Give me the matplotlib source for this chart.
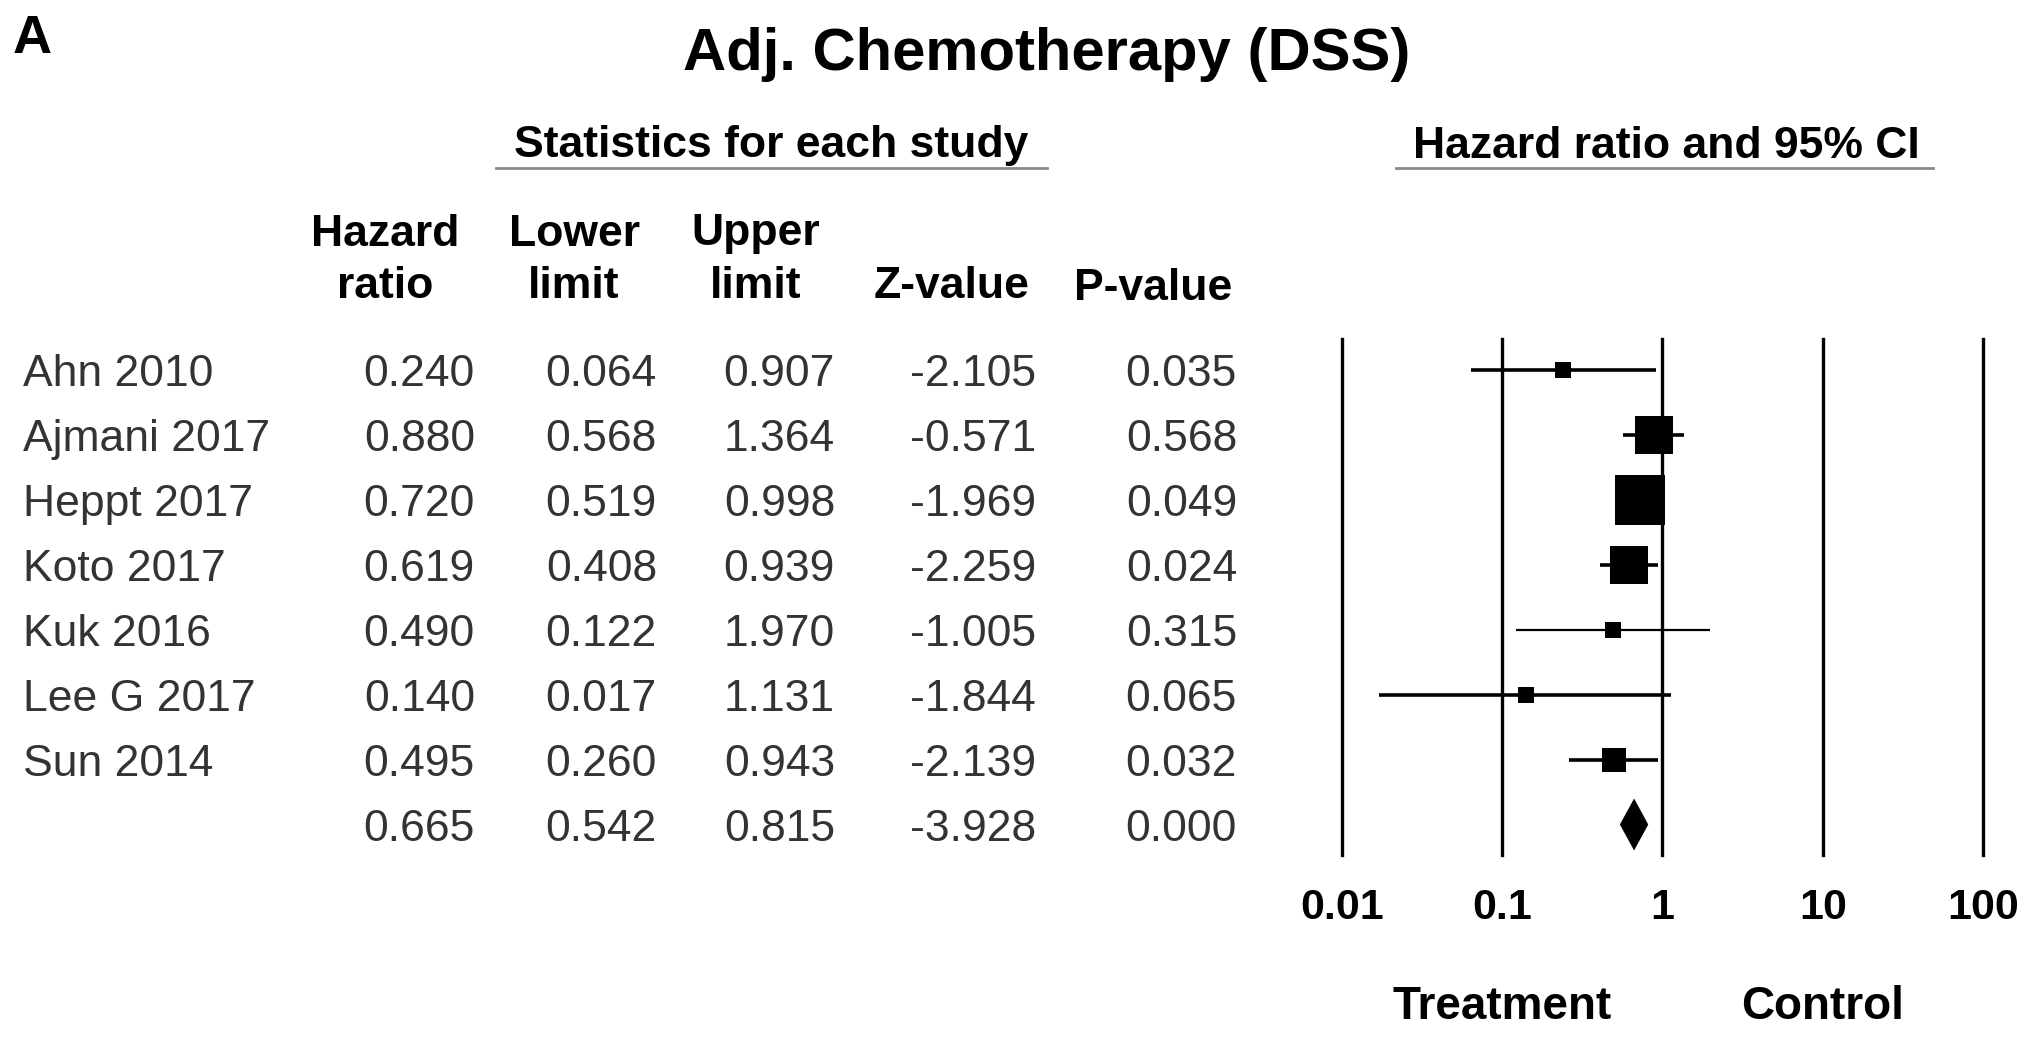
import matplotlib
matplotlib.use("Agg")
import matplotlib.pyplot as plt
from matplotlib import transforms
from matplotlib.lines import Line2D
import numpy as np

plt.rcParams['font.family'] = ['Liberation Sans', 'DejaVu Sans']

# ---------------- data ----------------
studies = ["Ahn 2010", "Ajmani 2017", "Heppt 2017", "Koto 2017",
           "Kuk 2016", "Lee G 2017", "Sun 2014"]
hazard_ratio = [0.240, 0.880, 0.720, 0.619, 0.490, 0.140, 0.495]
lower_limit = [0.064, 0.568, 0.519, 0.408, 0.122, 0.017, 0.260]
upper_limit = [0.907, 1.364, 0.998, 0.939, 1.970, 1.131, 0.943]
z_value = [-2.105, -0.571, -1.969, -2.259, -1.005, -1.844, -2.139]
p_value = [0.035, 0.568, 0.049, 0.024, 0.315, 0.065, 0.032]
rel_weight = [3.9, 21.1, 37.0, 22.2, 3.5, 3.5, 8.9]   # relative weight (%) -> box area

summary_hr = 0.665
summary_lower = 0.542
summary_upper = 0.815
summary_z = -3.928
summary_p = 0.000

axis_ticks = [0.01, 0.1, 1, 10, 100]
axis_tick_labels = ["0.01", "0.1", "1", "10", "100"]

# ---------------- layout ----------------
W, H = 2031, 1042
fig = plt.figure(figsize=(W / 100, H / 100), dpi=100)

def fx(px):
    return px / W

def fy(py):
    return 1 - py / H

# forest axes (pixel bounds)
ax_l, ax_r, ax_t, ax_b = 1342, 1983, 339, 855
ax = fig.add_axes([fx(ax_l), fy(ax_b), (ax_r - ax_l) / W, (ax_b - ax_t) / H])
ax.set_xscale('log')
ax.set_xlim(0.01, 100)
n = len(studies)
ax.set_ylim(n + 0.47, -0.48)
for s in ax.spines.values():
    s.set_visible(False)
ax.set_yticks([])
ax.minorticks_off()
ax.set_xticks(axis_ticks)
ax.set_xticklabels(axis_tick_labels, fontsize=31, fontweight='bold')
ax.tick_params(axis='x', length=0, pad=24)
ax.patch.set_visible(False)

for t in axis_ticks:
    ax.axvline(t, color='black', lw=2.4, clip_on=False, zorder=1)

rows = np.arange(n)
ci_lw = [2.6, 2.6, 2.6, 2.6, 1.6, 2.6, 2.6]
for i in range(n):
    ax.plot([lower_limit[i], upper_limit[i]], [rows[i], rows[i]],
            color='black', lw=ci_lw[i], solid_capstyle='butt', zorder=3)
    side_px = 8.06 * np.sqrt(rel_weight[i])
    ax.plot([hazard_ratio[i]], [rows[i]], marker='s', color='black',
            markersize=side_px * 0.72, markeredgewidth=0, zorder=4)

# summary diamond
hd = 0.4
ax.fill([summary_lower, summary_hr, summary_upper, summary_hr],
        [n, n - hd, n, n + hd], color='black', lw=0, zorder=4)

# ---------------- text table ----------------
row_tr = transforms.blended_transform_factory(fig.transFigure, ax.transData)
txt_col = '#333333'
fs = 32
base_off = 0.25  # baseline offset (rows) so glyphs are centred on the row

for i, name in enumerate(studies):
    ax.text(fx(23), rows[i] + base_off, name, transform=row_tr, ha='left',
            va='baseline', fontsize=fs, color=txt_col)

col_right = [475, 657, 835, 1036, 1237]
all_rows = [
    (hazard_ratio + [summary_hr]),
    (lower_limit + [summary_lower]),
    (upper_limit + [summary_upper]),
    (z_value + [summary_z]),
    (p_value + [summary_p]),
]
for c, vals in enumerate(all_rows):
    for i, v in enumerate(vals):
        ax.text(fx(col_right[c]), i + base_off, "{:.3f}".format(v),
                transform=row_tr, ha='right', va='baseline',
                fontsize=fs, color=txt_col)

# column headers
hdr = dict(fontsize=fs, fontweight='bold', ha='center', va='center', color='black')
fig.text(fx(385), fy(234), "Hazard", **hdr)
fig.text(fx(385), fy(286), "ratio", **hdr)
fig.text(fx(574), fy(234), "Lower", **hdr)
fig.text(fx(574), fy(286), "limit", **hdr)
fig.text(fx(756), fy(234), "Upper", **hdr)
fig.text(fx(756), fy(286), "limit", **hdr)
fig.text(fx(952), fy(286), "Z-value", **hdr)
fig.text(fx(1153), fy(289), "P-value", **hdr)

# group headers with underline
fig.text(fx(771), fy(146), "Statistics for each study", **hdr)
fig.add_artist(Line2D([fx(496), fx(1047)], [fy(168), fy(168)], color='#8a8a8a', lw=2))
fig.text(fx(1666), fy(146), "Hazard ratio and 95% CI", **hdr)
fig.add_artist(Line2D([fx(1396), fx(1933)], [fy(168), fy(168)], color='#8a8a8a', lw=2))

# title and panel label
fig.text(fx(1047), fy(55), "Adj. Chemotherapy (DSS)", fontsize=43,
         fontweight='bold', ha='center', va='center')
fig.text(fx(13), fy(53), "A", fontsize=39, fontweight='bold', ha='left', va='baseline')

# direction labels
lab_tr = transforms.blended_transform_factory(ax.transData, fig.transFigure)
ax.text(0.1, fy(1007), "Treatment", transform=lab_tr, fontsize=33,
        fontweight='bold', ha='center', va='center')
ax.text(10, fy(1007), "Control", transform=lab_tr, fontsize=33,
        fontweight='bold', ha='center', va='center')

fig.savefig("out.png", dpi=100)
